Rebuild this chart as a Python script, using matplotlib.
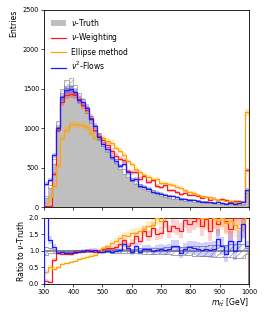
import numpy as np
import matplotlib
matplotlib.use("Agg")
import matplotlib.pyplot as plt

# 50 bins of 14 GeV from 300 to 1000 (last bin includes overflow)
bin_edges = np.linspace(300, 1000, 51)

truth = [130, 260, 580, 1050, 1450, 1560, 1590, 1500, 1400, 1330,
         1230, 1110, 1000, 900, 810, 730, 650, 580, 510, 450,
         400, 350, 310, 275, 245, 220, 198, 178, 160, 146,
         133, 121, 110, 101, 93, 86, 79, 73, 68, 63,
         58, 54, 50, 47, 44, 41, 39, 37, 35, 190]

nu_weighting = [13, 13, 423, 977, 1334, 1420, 1431, 1425, 1372, 1290,
                1230, 1132, 980, 900, 851, 788, 715, 650, 612, 594,
                460, 438, 450, 358, 392, 319, 337, 267, 248, 277,
                213, 212, 187, 162, 181, 155, 150, 146, 119, 123,
                93, 108, 90, 99, 84, 68, 78, 81, 70, 470]

ellipse = [46, 130, 261, 525, 870, 983, 1049, 1050, 1036, 1037,
           1009, 944, 880, 882, 875, 840, 813, 754, 714, 666,
           580, 543, 481, 440, 404, 385, 356, 356, 304, 307,
           293, 278, 253, 242, 214, 189, 182, 153, 136, 126,
           122, 108, 95, 94, 81, 78, 70, 63, 60, 1200]

nu2_flows = [293, 346, 655, 998, 1392, 1482, 1495, 1455, 1358, 1330,
             1255, 1110, 1030, 882, 794, 730, 630, 580, 520, 549,
             440, 340, 357, 267, 257, 231, 196, 184, 168, 150,
             140, 139, 127, 96, 98, 95, 87, 77, 70, 66,
             60, 57, 68, 54, 40, 53, 39, 48, 63, 218]

plt.rcParams['font.family'] = ['DejaVu Sans']
plt.rcParams['font.size'] = 4.7
plt.rcParams['axes.linewidth'] = 0.6
plt.rcParams['xtick.major.width'] = 0.5
plt.rcParams['ytick.major.width'] = 0.5
plt.rcParams['xtick.major.size'] = 2
plt.rcParams['ytick.major.size'] = 2
plt.rcParams['xtick.major.pad'] = 1.5
plt.rcParams['ytick.major.pad'] = 1.5
plt.rcParams['hatch.linewidth'] = 0.4

fig = plt.figure(figsize=(2.66, 3.19), dpi=100)
ax = fig.add_axes([0.165, 0.351, 0.771, 0.618])
rax = fig.add_axes([0.165, 0.110, 0.771, 0.207])

edges = bin_edges
T = np.array(truth, float)
series = [
    (np.array(nu_weighting, float), '#ff1a1a', r'$\nu$-Weighting'),
    (np.array(ellipse, float), '#ffa500', 'Ellipse method'),
    (np.array(nu2_flows, float), '#1a1aff', r'$\nu^2$-Flows'),
]

# top panel
ax.stairs(T, edges, fill=True, color='#bfbfbf', label=r'$\nu$-Truth', zorder=1)
t_err = 1.25 * np.sqrt(T)
width = np.diff(edges)
centers = 0.5 * (edges[:-1] + edges[1:])
ax.bar(centers, 2 * t_err, bottom=T - t_err, width=width, facecolor='white',
       edgecolor='#808080', hatch='/////', linewidth=0.5, zorder=2, alpha=0.8)
for vals, col, lab in series:
    err = 1.3 * np.sqrt(vals)
    ax.stairs(vals + err, edges, baseline=vals - err, fill=True, color=col,
              alpha=0.25, linewidth=0, zorder=3)
    ax.stairs(vals, edges, color=col, linewidth=0.9, label=lab, zorder=4)

ax.set_xlim(300, 1000)
ax.set_ylim(0, 2500)
ax.set_yticks([0, 500, 1000, 1500, 2000, 2500])
ax.set_xticks(np.arange(300, 1001, 100))
ax.tick_params(labelbottom=False)
ax.set_ylabel('Entries', loc='top', labelpad=3, fontsize=5.6)
h, l = ax.get_legend_handles_labels()
ax.legend(h, l, loc='upper left', frameon=False, fontsize=5.5,
          handlelength=2.0, handletextpad=0.7, borderaxespad=0.5,
          labelspacing=0.45)

# ratio panel
rel = t_err / T
rax.stairs(1 + rel, edges, baseline=1 - rel, fill=False, hatch='/////',
           edgecolor='#808080', linewidth=0, zorder=2)
rax.stairs(1 + rel, edges, baseline=1 - rel, fill=False, color='#808080',
           linewidth=0.5, zorder=2)
rax.stairs(np.ones_like(T), edges, color='#808080', linewidth=1.2, zorder=2)
for vals, col, lab in series:
    r = vals / T
    rerr = 1.8 * np.sqrt(vals) / T
    rax.stairs(r + rerr, edges, baseline=r - rerr, fill=True, color=col,
               alpha=0.2, linewidth=0, zorder=3)
    rax.stairs(r, edges, color=col, linewidth=0.9, zorder=4)

rax.set_xlim(300, 1000)
rax.set_ylim(0, 2)
rax.set_yticks([0.0, 0.5, 1.0, 1.5, 2.0])
rax.set_xticks(np.arange(300, 1001, 100))
rax.set_ylabel(r'Ratio to $\nu$-Truth', labelpad=2, fontsize=5.6)
rax.set_xlabel(r'$m_{t\bar{t}}$ [GeV]', loc='right', labelpad=1, fontsize=5.6)

fig.savefig('out.png', dpi=100)
